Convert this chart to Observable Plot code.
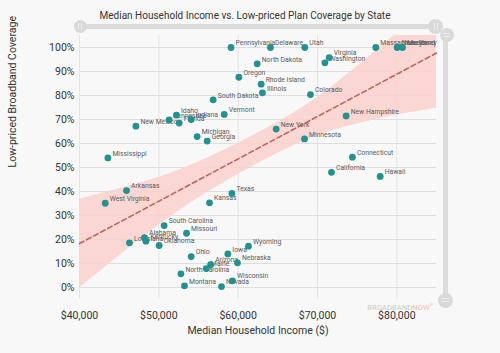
<!DOCTYPE html>
<html>
<head>
<meta charset="utf-8">
<script src="https://cdn.jsdelivr.net/npm/d3@7"></script>
<script src="https://cdn.jsdelivr.net/npm/@observablehq/plot@0.6"></script>
<style>
  html, body { margin: 0; padding: 0; background: #f8f8f8; }
  #wrap { position: relative; width: 500px; height: 353px; overflow: hidden; font-family: Roboto, sans-serif; }
  .bar { position: absolute; background: #dcdcdc; border-radius: 3px; }
  .knob { position: absolute; border-radius: 50%; background: #d9d9d9; }
  .knob i { position: absolute; background: #ececec; }
  #wm { position: absolute; right: 67px; top: 302px; font-size: 7.5px; letter-spacing: 0.1px; color: #c9c9c9; white-space: nowrap; }
  #wm span { color: #f3b9b1; }
</style>
</head>
<body>
<div id="wrap"></div>
<script>
// ---- data ----
const states = ["Pennsylvania","Delaware","Utah","Massachusetts","New Jersey","Maryland","Virginia","Washington","North Dakota","Oregon","Rhode Island","Illinois","Colorado","South Dakota","Vermont","Idaho","Tennessee","Florida","Indiana","New Mexico","Michigan","Georgia","New Hampshire","New York","Minnesota","Mississippi","Connecticut","California","Hawaii","Arkansas","West Virginia","Texas","Kansas","South Carolina","Missouri","Alabama","Kentucky","Louisiana","Oklahoma","Ohio","Iowa","Wyoming","Nebraska","Arizona","Maine","North Carolina","Wisconsin","Nevada","Montana"];
const income = [59100,64070,68400,77350,80040,80710,71470,70930,62400,60090,62900,63060,69110,56850,58240,52220,51300,52570,54080,47110,54830,56090,73610,64790,68360,43580,74400,71760,77900,45930,43240,59210,56390,50670,53490,48190,48370,46300,50040,54080,58700,61300,59910,56530,55970,52780,59280,57900,53230];
const coverage = [100,100,100,100,100,100,95.8,93.6,93.2,87.6,84.7,81.1,80.4,78.2,72.1,71.8,69.8,68.5,70.0,67.2,62.9,61.0,71.5,66.0,61.9,54.0,54.3,48.0,46.3,40.4,35.1,39.2,35.3,25.8,22.6,20.8,19.3,18.6,17.5,12.9,14.0,17.2,10.3,9.5,7.9,5.7,2.8,0.4,0.7];

const trendIncome = [40000, 85000];
const trendCoverage = [18.3, 97.7];

const bandIncome = [40000,45000,50000,55000,60000,65000,70000,75000,80000,85000];
const bandLower  = [-0.2,13.1,25.9,37.3,47.1,55.9,63.2,68.1,71.9,74.7];
const bandUpper  = [36.8,41.1,45.9,52.3,60.1,68.9,79.2,92.1,105.9,120.7];

const xTicks = [40000,50000,60000,70000,80000];
const yTicks = [0,10,20,30,40,50,60,70,80,90,100];

const title = "Median Household Income vs. Low-priced Plan Coverage by State";
const xTitle = "Median Household Income ($)";
const yTitle = "Low-priced Broadband Coverage";

// ---- tables ----
const pts = states.map((s, i) => ({state: s, income: income[i], coverage: coverage[i]}));
const trend = trendIncome.map((x, i) => ({x, y: trendCoverage[i]}));
const band = bandIncome.map((x, i) => ({x, lo: bandLower[i], hi: bandUpper[i]}));

const chart = Plot.plot({
  width: 500,
  height: 353,
  marginLeft: 79,
  marginRight: 64,
  marginTop: 35,
  marginBottom: 54,
  style: {background: "transparent", fontFamily: "Roboto, sans-serif", overflow: "visible"},
  x: {domain: [40000, 85000]},
  y: {domain: [-5, 105]},
  marks: [
    Plot.gridX(xTicks, {stroke: "#e4e4e4", strokeOpacity: 1}),
    Plot.gridY(yTicks, {stroke: "#dedede", strokeOpacity: 1}),
    Plot.areaY(band, {x: "x", y1: "lo", y2: "hi", fill: "#fbd3ce", fillOpacity: 0.9, curve: "natural", clip: "frame"}),
    Plot.line(trend, {x: "x", y: "y", stroke: "#b8675f", strokeWidth: 1.6, strokeDasharray: "5,3"}),
    Plot.text(pts, {x: "income", y: "coverage", text: "state", textAnchor: "start", dx: 4.5, dy: -4.5, fontSize: 6.8, fill: "#5a5a5a"}),
    Plot.dot(pts, {x: "income", y: "coverage", r: 3.4, fill: "#23918f", stroke: "none"}),
    Plot.axisX(xTicks, {tickSize: 0, tickPadding: 12, fontSize: 10.5, fill: "#333", label: null,
      tickFormat: d => "$" + d3.format(",")(d)}),
    Plot.axisY(yTicks, {tickSize: 0, tickPadding: 5, fontSize: 10.5, fill: "#333", label: null,
      tickFormat: d => d + "%"}),
    Plot.text([xTitle], {frameAnchor: "bottom", dy: 34, fontSize: 10.5, fill: "#333"}),
    Plot.text([yTitle], {frameAnchor: "left", dx: -67, rotate: -90, fontSize: 10.5, fill: "#333"}),
    Plot.text([title], {frameAnchor: "top", dx: -13, dy: -24, fontSize: 10, fill: "#333"})
  ]
});

const wrap = document.getElementById("wrap");
wrap.appendChild(chart);

// decorative zoom sliders and watermark
function bar(l, t, w, h) { const d = document.createElement("div"); d.className = "bar"; Object.assign(d.style, {left: l+"px", top: t+"px", width: w+"px", height: h+"px"}); wrap.appendChild(d); }
function knob(cx, cy, r, vertical) {
  const d = document.createElement("div"); d.className = "knob";
  Object.assign(d.style, {left: (cx-r)+"px", top: (cy-r)+"px", width: 2*r+"px", height: 2*r+"px"});
  for (let k = -1; k <= 1; k += 2) {
    const l = document.createElement("i");
    if (vertical) Object.assign(l.style, {left: (r-3.5)+"px", top: (r-0.5+k*1.5)+"px", width: "7px", height: "1px"});
    else Object.assign(l.style, {top: (r-3.5)+"px", left: (r-0.5+k*1.5)+"px", height: "7px", width: "1px"});
    d.appendChild(l);
  }
  wrap.appendChild(d);
}
bar(80, 23.5, 356, 5);
bar(442.5, 35, 5, 265);
knob(80, 26, 6.5, false);
knob(435.5, 26, 7.5, false);
knob(446.5, 34.5, 7, true);
knob(445, 300, 7.5, true);
const wm = document.createElement("div"); wm.id = "wm"; wm.innerHTML = "BROADBAND<span>NOW</span><sup style='font-size:4px'>®</sup>";
wrap.appendChild(wm);
</script>
</body>
</html>
